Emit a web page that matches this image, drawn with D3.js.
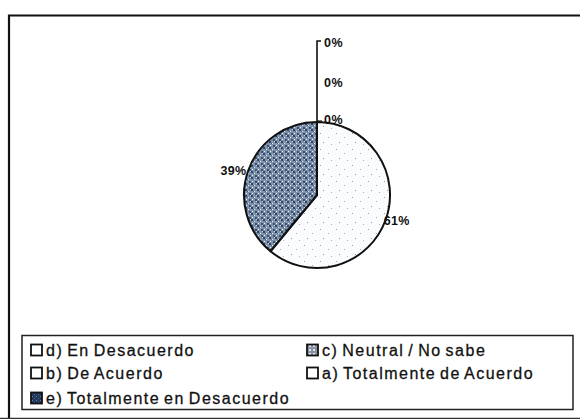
<!DOCTYPE html>
<html><head><meta charset="utf-8">
<script src="https://cdn.jsdelivr.net/npm/d3@7"></script>
<style>
html,body{margin:0;padding:0;background:#fff;}
svg{display:block;}
text{font-family:"Liberation Sans",Arial,sans-serif;fill:#111;}
</style></head>
<body>
<svg id="chart" width="580" height="419"></svg>
<script>
// ---- data ----
const categories = ["d) En Desacuerdo", "c) Neutral / No sabe", "b) De Acuerdo", "a) Totalmente de Acuerdo", "e) Totalmente en Desacuerdo"];
const values = [61, 39, 0, 0, 0];
const valueLabels = ["61%", "39%", "0%", "0%", "0%"];
const sliceFills = ["url(#pLight)", "url(#pDark)", "#ffffff", "#ffffff", "url(#pNavy)"];
const markerFills = ["#ffffff", "url(#pGray)", "#ffffff", "#ffffff", "url(#pNavy)"];

const svg = d3.select("#chart");
const defs = svg.append("defs");

// patterns (deterministic)
function pattern(id, size, bg, dots) {
  const p = defs.append("pattern").attr("id", id).attr("patternUnits", "userSpaceOnUse")
    .attr("width", size).attr("height", size);
  p.append("rect").attr("width", size).attr("height", size).attr("fill", bg);
  dots.forEach(d => p.append("rect").attr("x", d[0]).attr("y", d[1]).attr("width", d[2]).attr("height", d[2]).attr("fill", d[3]));
}
pattern("pLight", 16, "#fbfcfd", [[3,2,1,"#8fa3bd"],[11,6,1,"#9aaac0"],[6,11,1,"#7f95b0"],[14,13,1,"#a5b4c8"]]);
pattern("pDark", 6, "#7e93ab", [[0,0,2,"#2f4462"],[3,2,1,"#e8eef5"],[1,4,1,"#f4f7fa"],[4,4,2,"#3a5070"],[5,0,1,"#cfd9e4"],[2,2,1,"#4b6383"]]);
pattern("pGray", 4, "#8894a4", [[1,1,2,"#dde3ea"]]);
pattern("pNavy", 4, "#233a5e", [[0,0,1,"#5e7aa0"],[2,2,1,"#4a648c"]]);

// outer frame
svg.append("path").attr("d", "M9,419 L9,15.5 L585,15.5").attr("fill", "none").attr("stroke", "#111").attr("stroke-width", 2.2);
svg.append("line").attr("x1", 0).attr("x2", 580).attr("y1", 418.5).attr("y2", 418.5).attr("stroke", "#333").attr("stroke-width", 1.5);

// pie
const cx = 317, cy = 195, r = 73;
const pie = d3.pie().sort(null).value(d => d)(values);
const arc = d3.arc().innerRadius(0).outerRadius(r);
const g = svg.append("g").attr("transform", `translate(${cx},${cy})`);
g.selectAll("path.slice").data(pie.filter(d => d.value > 0)).join("path")
  .attr("class", "slice")
  .attr("d", arc)
  .attr("fill", d => sliceFills[d.index])
  .attr("stroke", "#111").attr("stroke-width", 2).attr("stroke-linejoin", "round");

const labelFont = 12.5;
// labels for non-zero slices
pie.filter(d => d.value > 0).forEach(d => {
  const a = (d.startAngle + d.endAngle) / 2;
  const x = Math.sin(a) * (r + 1), y = -Math.cos(a) * (r + 1);
  g.append("text")
    .attr("x", x + (Math.sin(a) > 0 ? -3 : -1))
    .attr("y", y + 5)
    .attr("text-anchor", Math.sin(a) > 0 ? "start" : "end")
    .attr("font-size", labelFont).attr("font-weight", "bold")
    .attr("letter-spacing", 0.3)
    .text(valueLabels[d.index]);
});

// zero slices: stacked labels above the top of the pie with a leader line
const zeros = pie.filter(d => d.value === 0);
const topA = zeros.length ? zeros[0].startAngle : 0;
const tx = Math.sin(topA) * r, ty = -Math.cos(topA) * r;
const step = 37.5;
const lastY = ty - 4 - (zeros.length - 1) * step - 2;
g.append("path")
  .attr("d", `M${tx},${ty} L${tx},${lastY} L${tx + 4},${lastY}`)
  .attr("fill", "none").attr("stroke", "#111").attr("stroke-width", 1.6);
g.append("line").attr("x1", tx).attr("x2", tx + 5).attr("y1", ty - 1).attr("y2", ty - 1)
  .attr("stroke", "#111").attr("stroke-width", 1.2);
zeros.forEach((d, i) => {
  g.append("text")
    .attr("x", tx + 7)
    .attr("y", ty + 2 - i * step - (i === zeros.length - 1 ? 2 : 0))
    .attr("font-size", labelFont).attr("font-weight", "bold")
    .attr("letter-spacing", 0.6)
    .text(valueLabels[d.index]);
});

// legend
const lg = svg.append("g");
lg.append("rect").attr("x", 22).attr("y", 335.5).attr("width", 551).attr("height", 74)
  .attr("fill", "none").attr("stroke", "#222").attr("stroke-width", 1.5);
const colX = [31, 307], rowY = [350, 373, 398];
categories.forEach((c, i) => {
  const col = i % 2, row = Math.floor(i / 2);
  const x = colX[col], y = rowY[row];
  lg.append("rect").attr("x", x).attr("y", y - 5.5).attr("width", 11).attr("height", 11)
    .attr("fill", markerFills[i]).attr("stroke", "#111").attr("stroke-width", 1.8);
  lg.append("text").attr("x", x + 15).attr("y", y + 6)
    .attr("font-size", 16).attr("letter-spacing", 1.5).attr("word-spacing", -2)
    .attr("stroke", "#111").attr("stroke-width", 0.3)
    .text(c);
});
</script>
</body></html>
